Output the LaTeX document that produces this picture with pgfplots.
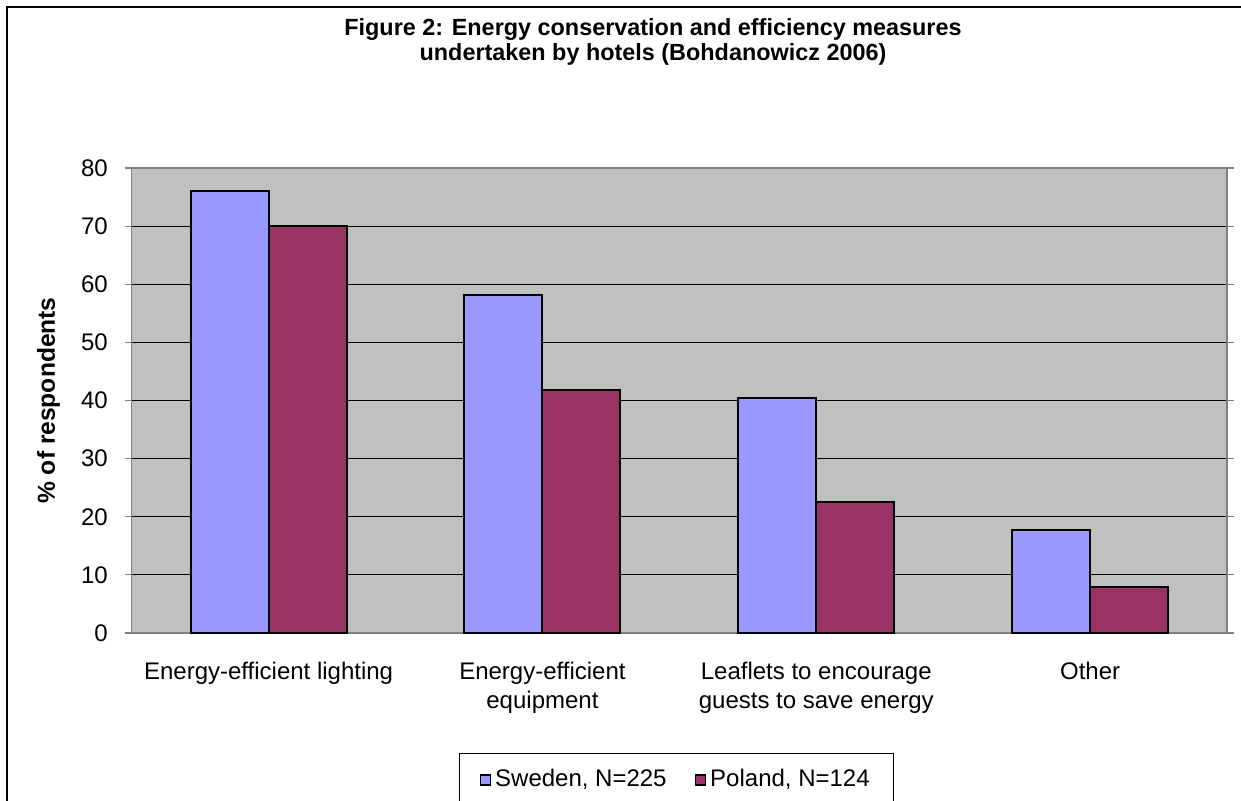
\documentclass[border=0pt]{standalone}
\usepackage{pgfplots}
\pgfplotsset{compat=1.18}
\usepackage{fontspec}
\setmainfont{Liberation Sans}
\definecolor{sweden}{HTML}{9999FF}
\definecolor{poland}{HTML}{993366}
\definecolor{plotbg}{HTML}{C0C0C0}
\definecolor{bordergray}{HTML}{808080}
\begin{document}
\begin{tikzpicture}
\useasboundingbox (0,0) rectangle (620.5pt,400pt);
\begin{axis}[
  scale only axis,
  width=547.65pt, height=232.5pt,
  anchor=south west, at={(65.85pt,83.5pt)},
  axis background/.style={fill=plotbg},
  axis line style={draw=bordergray, line width=0.6pt},
  ybar=0pt, bar width=39pt,
  xmin=-0.5, xmax=3.5,
  ymin=0, ymax=80,
  ytick={0,10,...,80},
  ymajorgrids,
  grid style={black, line width=0.5pt},
  xtick={0,1,2,3},
  xticklabels={Energy-efficient lighting, Energy-efficient\\equipment, Leaflets to encourage\\guests to save energy, Other},
  x tick style={draw=none},
  extra x ticks={-0.5,0.5,1.5,2.5,3.5},
  extra x tick labels={},
  extra x tick style={grid=none, tick style={draw=bordergray, line width=0.6pt}},
  tick align=outside,
  major tick length=3.5pt,
  y tick style={draw=bordergray, line width=0.6pt},
  /pgf/number format/assume math mode=true,
  tick label style={font=\fontsize{12}{14.5}\selectfont},
  yticklabel style={inner sep=0pt, anchor=east, xshift=-8.3pt},
  xticklabel style={inner sep=0pt, anchor=north, align=center, yshift=-11pt},
  ylabel={\textbf{\% of respondents}},
  ylabel style={at={(axis description cs:-0.076,0.5)}, anchor=center, font=\fontsize{12.3}{14}\selectfont},
  legend columns=2,
  legend style={
    at={(axis description cs:0.2988,-0.258)}, anchor=north west,
    draw=black, line width=0.6pt, fill=white,
    inner xsep=10pt, inner ysep=6pt,
    font=\fontsize{12}{14}\selectfont,
    /tikz/every even column/.append style={column sep=12pt},
    nodes={inner sep=2pt}
  },
  legend image code/.code={\draw[#1, draw=black, line width=0.8pt] (0pt,-2.5pt) rectangle (5pt,2.5pt);},
]
\addplot[fill=sweden, draw=black, line width=1pt] coordinates {(0,76.0) (1,58.2) (2,40.4) (3,17.7)};
\addplot[fill=poland, draw=black, line width=1pt] coordinates {(0,70.1) (1,41.8) (2,22.5) (3,8.0)};
\legend{Sweden{,} N=225, Poland{,} N=124}
\end{axis}
\node[align=center, font=\bfseries\fontsize{11.7}{12.3}\selectfont] at (326.5pt,379pt) {Figure 2: Energy conservation and efficiency measures\\undertaken by hotels (Bohdanowicz 2006)};
\draw[line width=0.6pt] (3.5pt,-10pt) -- (3.5pt,396.5pt) -- (640pt,396.5pt);
\end{tikzpicture}
\end{document}
